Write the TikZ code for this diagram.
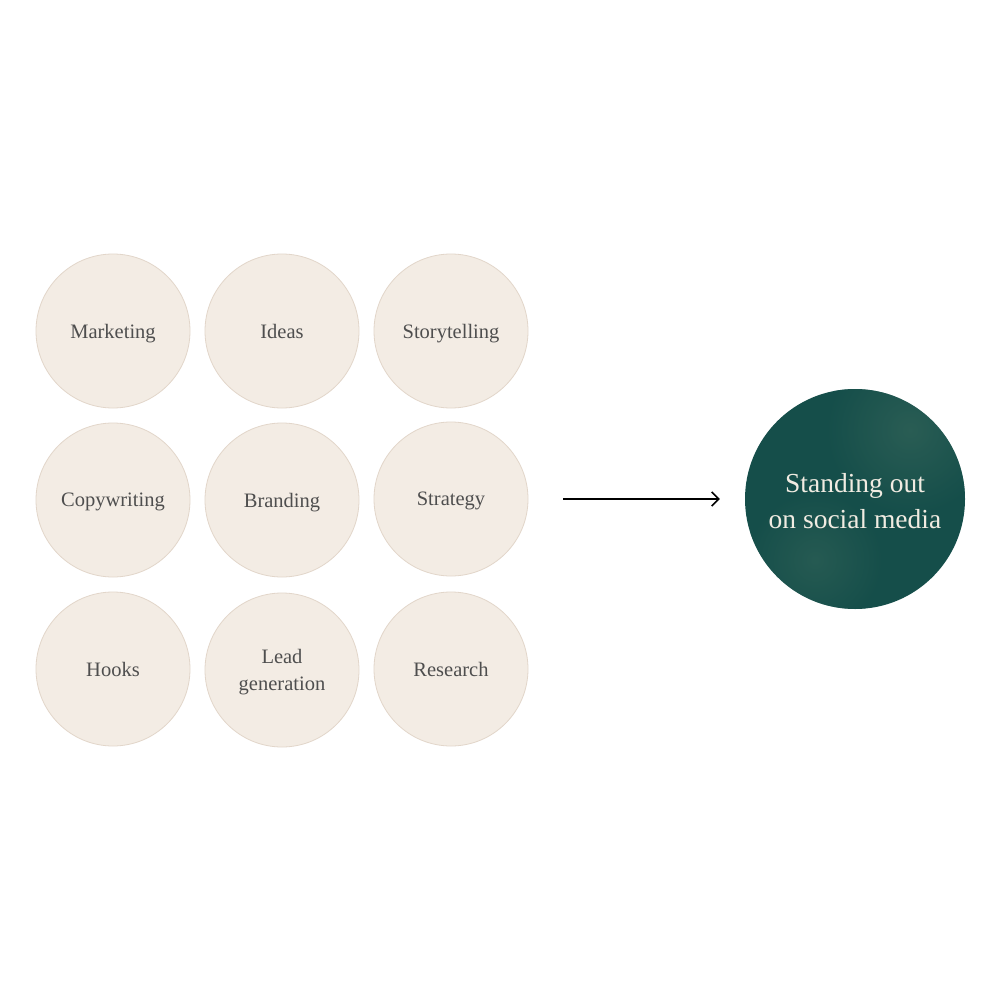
\documentclass[tikz,border=0pt]{standalone}
\usepackage{fontspec}
\setmainfont{Liberation Serif}
\usetikzlibrary{arrows.meta,positioning}
\definecolor{cream}{HTML}{F3ECE4}
\definecolor{creamline}{HTML}{E2D6CA}
\definecolor{inktext}{HTML}{4E4E4E}
\definecolor{teal}{HTML}{154E4A}
\definecolor{tealhi}{HTML}{3B6A5D}
\definecolor{tealtext}{HTML}{F1ECE2}
\tikzset{
	topic/.style={
		circle,
		fill=cream,
		draw=creamline, line width=0.8pt,
		minimum size=154pt,
		inner sep=0pt,
		align=center,
		text depth=0pt,
		text=inktext,
		font=\fontsize{20.5}{26.6}\selectfont},
	goal/.style={
		circle,
		minimum size=220pt,
		inner sep=0pt,
		align=center,
		text=tealtext,
		font=\fontsize{27.5}{36}\selectfont},
	pil/.style={
		-{Straight Barb[length=7pt,width=14pt,line width=1.6pt]},
		line width=1.6pt,
		shorten <=35pt,
		shorten >=25pt}
}
\begin{document}
\begin{tikzpicture}[x=1pt,y=1pt,yscale=-1]
\fill[white] (0,0) rectangle (1000,1000);
\useasboundingbox (0,0) rectangle (1000,1000);

% grid of topics
\node[topic] (marketing) at (113,331) {Marketing};
\node[topic] (ideas) at (282,331) {Ideas};
\node[topic] (story) at (451,331) {Storytelling};
\node[topic] (copy) at (113,500) {Copywriting};
\node[topic] (branding) at (282,500) {Branding};
\node[topic] (strategy) at (451,499) {Strategy};
\node[topic] (hooks) at (113,669) {Hooks};
\node[topic] (lead) at (282,670) {Lead\\generation};
\node[topic] (research) at (451,669) {Research};

% target circle
\fill[teal] (855,499) circle (110);
\begin{scope}
\clip (855,499) circle (110);
\shade[inner color=tealhi, outer color=teal, opacity=0.55] (910,430) circle (85);
\shade[inner color=tealhi, outer color=teal, opacity=0.45] (815,560) circle (70);
\end{scope}
\node[goal] (social) at (855,501) {Standing out\\on social media};

\draw[pil] (strategy.east) -- (strategy.east -| social.west);
\end{tikzpicture}
\end{document}
